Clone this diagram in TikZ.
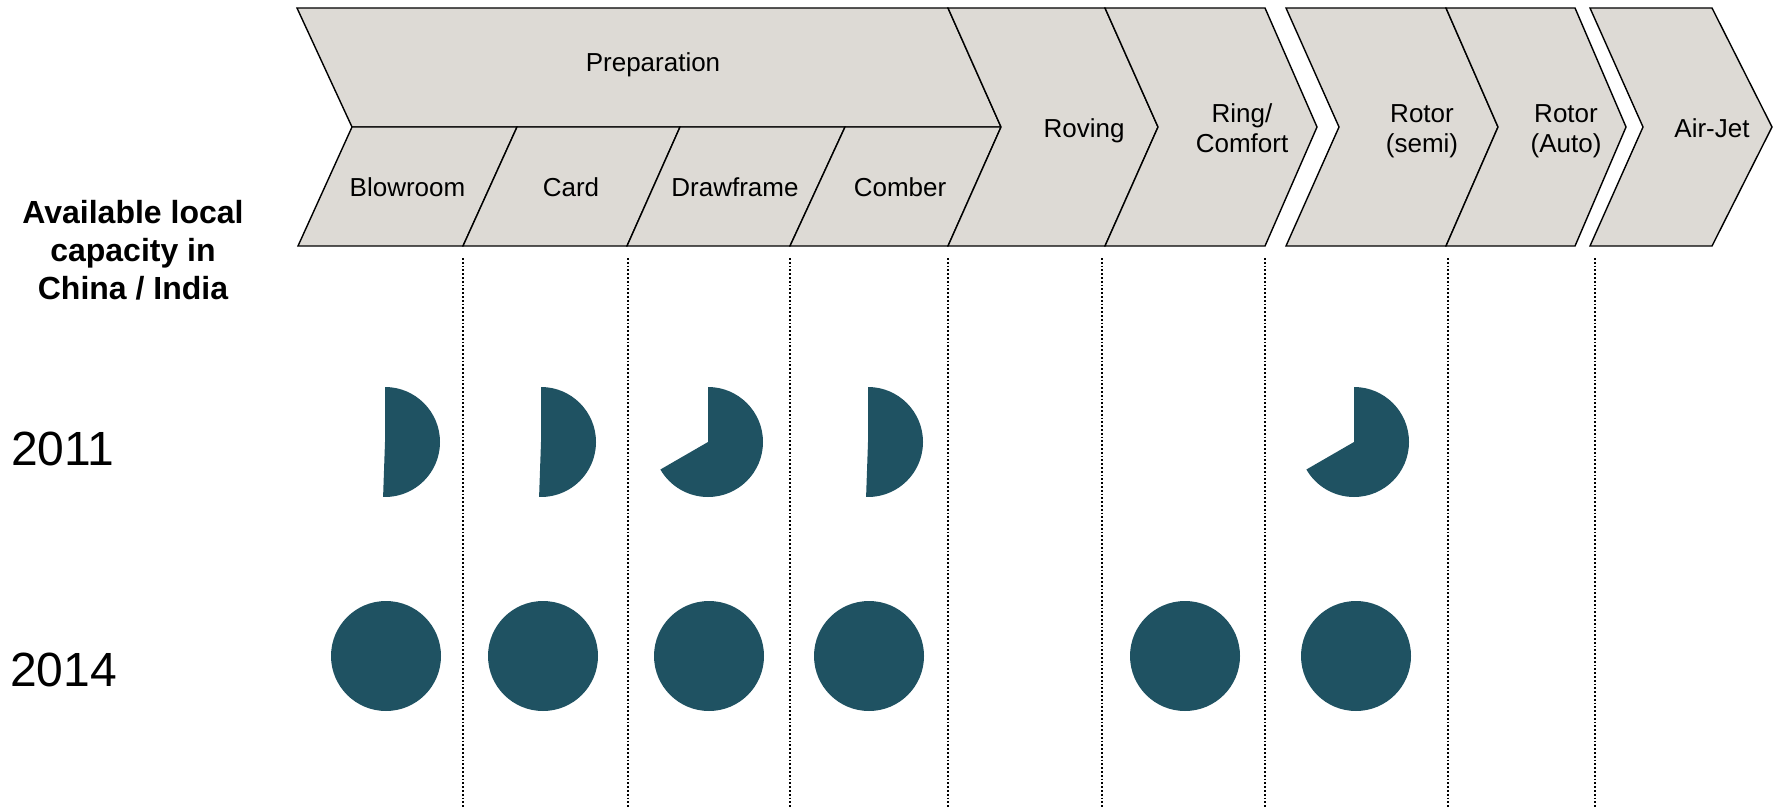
\documentclass[tikz,border=0pt]{standalone}
\usepackage{fontspec}
\setmainfont{Liberation Sans}
\definecolor{chevgrey}{RGB}{221,218,213}
\definecolor{pieteal}{RGB}{31,82,98}
\begin{document}
\begin{tikzpicture}[x=1pt,y=-1pt,
  chev/.style={draw=black, line width=1.4pt, fill=chevgrey, line join=miter},
  guide/.style={draw=black, line width=1.8pt, dash pattern=on 1.8pt off 2pt},
  pie/.style={fill=pieteal},
  lbl/.style={font=\fontsize{26}{30.5}\selectfont, inner sep=0pt, align=center},
  year/.style={font=\fontsize{48}{54}\selectfont, inner sep=0pt, anchor=base west}]
\useasboundingbox (0,0) rectangle (1776,808);

% guides
\foreach \gx in {463,628,790,948,1102,1265,1448,1595}
  \draw[guide] (\gx,258) -- (\gx,808);

% chevrons
\draw[chev] (297,8) -- (948,8) -- (1001,127) -- (352,127) -- cycle;
\draw[chev] (352,127) -- (517,127) -- (463,246) -- (298,246) -- cycle;
\draw[chev] (517,127) -- (680,127) -- (627,246) -- (463,246) -- cycle;
\draw[chev] (680,127) -- (845,127) -- (790,246) -- (627,246) -- cycle;
\draw[chev] (845,127) -- (1001,127) -- (948,246) -- (790,246) -- cycle;
\draw[chev] (948,8) -- (1105,8) -- (1158,127) -- (1105,246) -- (948,246) -- (1001,127) -- cycle;
\draw[chev] (1105,8) -- (1265,8) -- (1317,127) -- (1265,246) -- (1105,246) -- (1158,127) -- cycle;
\draw[chev] (1286,8) -- (1446,8) -- (1498,127) -- (1446,246) -- (1286,246) -- (1339,127) -- cycle;
\draw[chev] (1446,8) -- (1575,8) -- (1626,127) -- (1575,246) -- (1446,246) -- (1498,127) -- cycle;
\draw[chev] (1590,8) -- (1712,8) -- (1772,127) -- (1712,246) -- (1590,246) -- (1643,127) -- cycle;

% labels
\node[lbl, anchor=base] (prep) at (653,71.5) {Preparation};
\node[lbl, anchor=base] (blow) at (407.5,196.7) {Blowroom};
\node[lbl, anchor=base] (card) at (571,196.7) {Card};
\node[lbl, anchor=base] (draw) at (735,196.7) {Drawframe};
\node[lbl, anchor=base] (comb) at (900,196.7) {Comber};
\node[lbl, anchor=base] (rov) at (1084,137) {Roving};
\node[lbl] (ring) at (1242,128) {Ring/\\Comfort};
\node[lbl] (rsemi) at (1422,131) {Rotor\\(semi)};
\node[lbl] (rauto) at (1566,131) {Rotor\\(Auto)};
\node[lbl, anchor=base] (air) at (1712,137) {Air-Jet};

\node[font=\bfseries\fontsize{32}{38}\selectfont, align=center, inner sep=0pt] (hdr) at (133,250)
  {Available local\\capacity in\\China / India};
\node[year] (y11) at (11,465) {2011};
\node[year] (y14) at (10,686.7) {2014};

% 2011 pies
\fill[pie] (385,442) -- ++(0,-55) arc[start angle=-90, end angle=92, radius=55] -- cycle;
\fill[pie] (541,442) -- ++(0,-55) arc[start angle=-90, end angle=92, radius=55] -- cycle;
\fill[pie] (708,442) -- ++(0,-55) arc[start angle=-90, end angle=150, radius=55] -- cycle;
\fill[pie] (868,442) -- ++(0,-55) arc[start angle=-90, end angle=92, radius=55] -- cycle;
\fill[pie] (1354,442) -- ++(0,-55) arc[start angle=-90, end angle=150, radius=55] -- cycle;

% 2014 circles
\foreach \cx in {386,543,709,869,1185,1356}
  \fill[pie] (\cx,656) circle[radius=55];
\end{tikzpicture}
\end{document}
